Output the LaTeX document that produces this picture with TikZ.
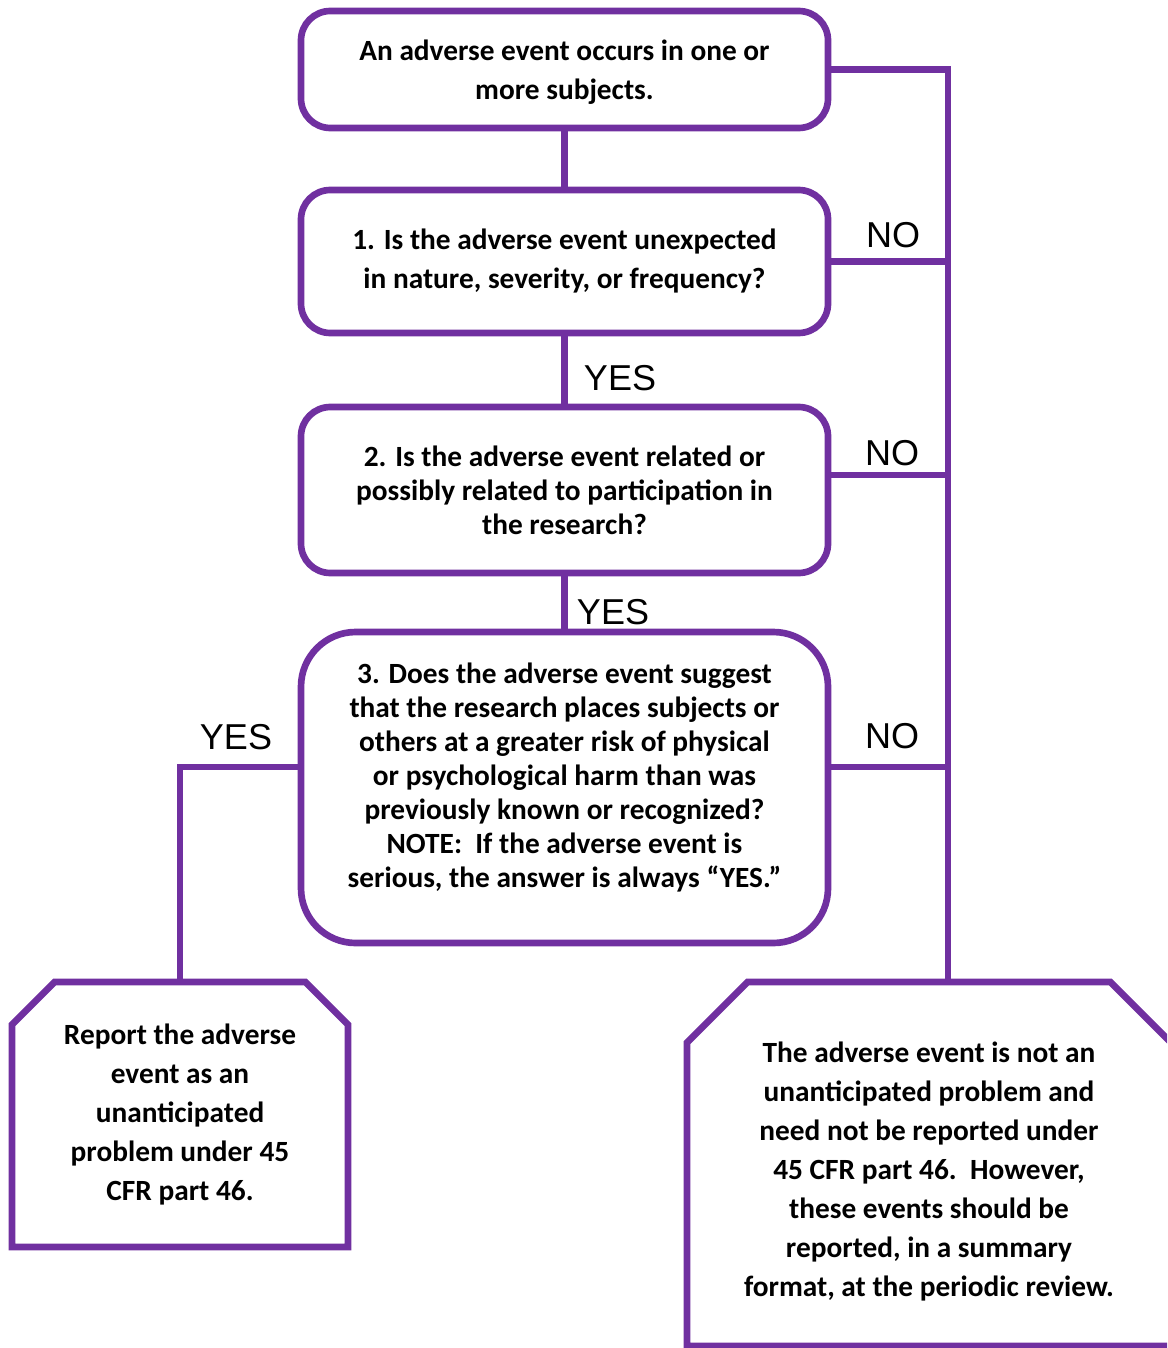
\documentclass[tikz,border=0pt]{standalone}
\usepackage{fontspec}
\setmainfont{Carlito}
\newfontfamily\answerfont{Liberation Sans}
\usetikzlibrary{shapes.misc}
\definecolor{ohrppurple}{RGB}{112,48,160}

\begin{document}
\begin{tikzpicture}[x=0.75pt, y=-0.75pt, line width=5pt,
    question/.style={draw=ohrppurple, rounded corners=22pt, align=center, inner sep=0pt,
        font=\bfseries\fontsize{22}{29.25}\selectfont},
    tight/.style={font=\bfseries\fontsize{22}{25.5}\selectfont},
    outcome/.style={draw=ohrppurple, chamfered rectangle, chamfered rectangle corners={north west,north east},
        align=center, inner sep=0pt, font=\bfseries\fontsize{22}{29.25}\selectfont},
    answer/.style={inner sep=0pt, font=\answerfont\fontsize{27}{30}\selectfont},
    link/.style={draw=ohrppurple}]
            \useasboundingbox (0,0) rectangle (1167,1348);
            \clip (0,0) rectangle (1167,1348);
            % Nodes
            \node[question, minimum width=395.25pt, minimum height=87.75pt, text depth=0pt] (occur) at (564.5,69.5)
                {An adverse event occurs in one or\\more subjects.};
            \node[question, minimum width=395.25pt, minimum height=107.25pt] (q1) at (564.5,261.5)
                {1. Is the adverse event unexpected\\in nature, severity, or frequency?};
            \node[question, tight, minimum width=395.25pt, minimum height=124.5pt] (q2) at (564.5,490)
                {2. Is the adverse event related or\\possibly related to participation in\\the research?};
            \node[question, tight, rounded corners=41pt, minimum width=395.25pt, minimum height=233.25pt, text depth=18pt] (q3) at (564.5,787.5)
                {3. Does the adverse event suggest\\that the research places subjects or\\others at a greater risk of physical\\or psychological harm than was\\previously known or recognized?\\NOTE:\ \ If the adverse event is\\serious, the answer is always “YES.”};
            \node[outcome, minimum width=252pt, minimum height=198.75pt, chamfered rectangle sep=16pt] (report) at (180,1114.5)
                {Report the adverse\\event as an\\unanticipated\\problem under 45\\CFR part 46.};
            \node[outcome, minimum width=363pt, minimum height=273pt, chamfered rectangle xsep=23pt, chamfered rectangle ysep=22.5pt, text height=199pt, text depth=0pt] (notup) at (929,1164)
                {The adverse event is not an\\unanticipated problem and\\need not be reported under\\45 CFR part 46.\ \ However,\\these events should be\\reported, in a summary\\format, at the periodic review.};
            \node[answer] (no1) at (893,235) {NO};
            \node[answer] (no2) at (892,453) {NO};
            \node[answer] (no3) at (892,736) {NO};
            \node[answer] (yes1) at (620,378) {YES};
            \node[answer] (yes2) at (613,612) {YES};
            \node[answer] (yes3) at (236,737) {YES};
            \coordinate (busfoot) at (948,982);
            \coordinate (bus2) at (948,475);
            \coordinate (bus3) at (948,767);
            \coordinate (yesbend) at (180,767);
            % Edges
            \draw[link] (occur) -- (q1);
            \draw[link] (q1) -- (q2);
            \draw[link] (q2) -- (q3);
            \draw[link] (occur.east) -| (busfoot);
            \draw[link] (q1.east) -- (q1.east -| busfoot);
            \draw[link] (bus2 -| q2.east) -- (bus2);
            \draw[link] (bus3 -| q3.east) -- (bus3);
            \draw[link] (yesbend -| q3.west) -- (yesbend) -- (report.north);
        \end{tikzpicture}
\end{document}
